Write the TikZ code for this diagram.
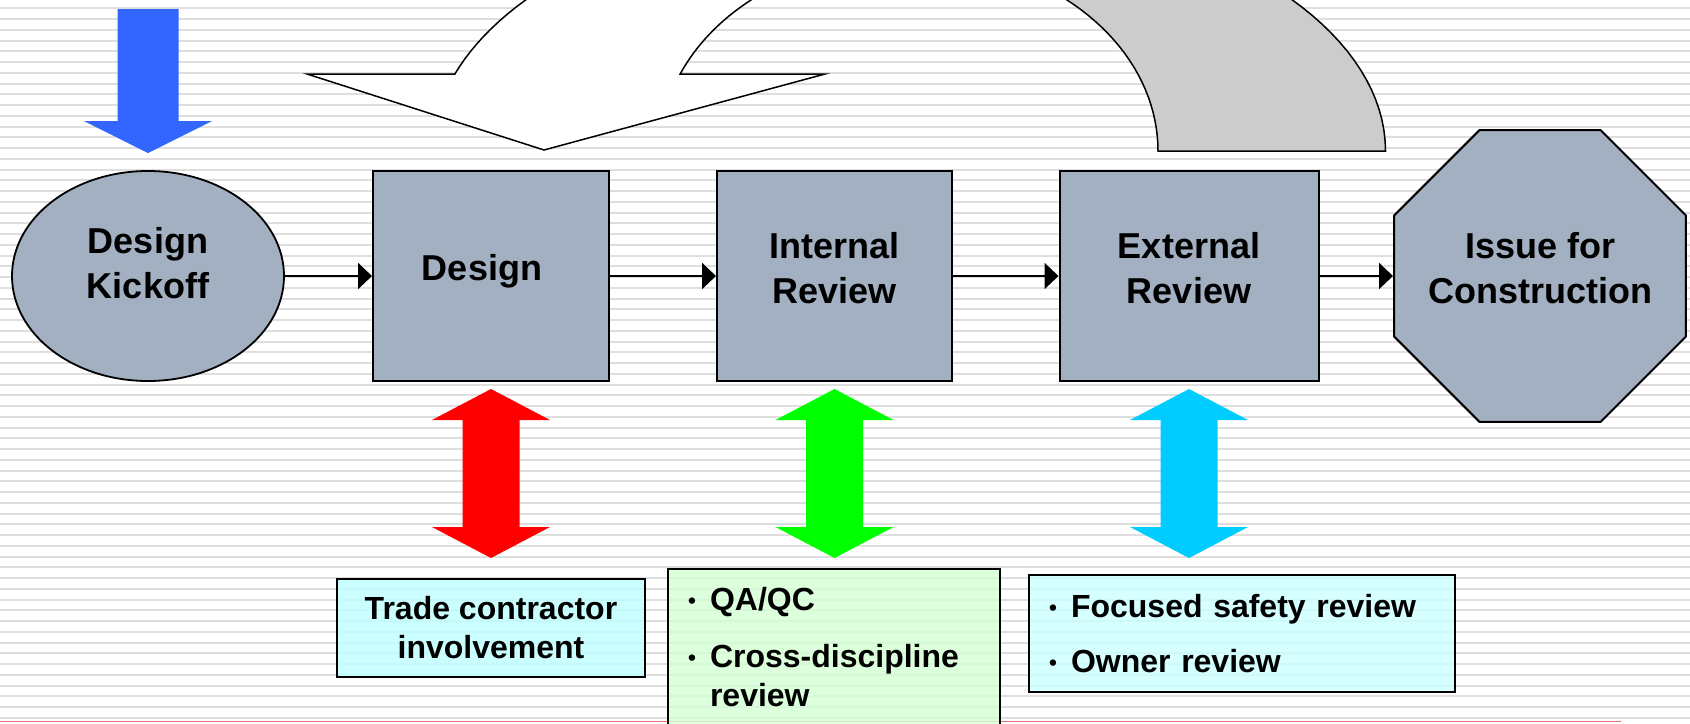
\documentclass[tikz,border=0pt]{standalone}
\usepackage{fontspec}
\setmainfont{Liberation Sans}
\usetikzlibrary{shapes.geometric, arrows.meta}

\definecolor{stagegray}{RGB}{162,176,193}
\definecolor{bandgray}{RGB}{204,204,204}
\definecolor{kickblue}{RGB}{51,102,255}
\definecolor{tradecyan}{RGB}{191,255,255}
\definecolor{qagreen}{RGB}{212,255,212}
\definecolor{ownercyan}{RGB}{204,255,255}
\definecolor{reviewcyan}{RGB}{0,204,255}
\definecolor{stripegray}{RGB}{222,222,222}
\definecolor{footred}{RGB}{232,112,112}

% double headed block arrow under a stage box
\newcommand{\twoway}[2]{%
  \fill[#2] ([shift={(0,7)}]#1.south) -- ++(59,31) -- ++(-30.5,0) -- ++(0,107) -- ++(30.5,0)
    -- ++(-59,31) -- ++(-59,-31) -- ++(30.5,0) -- ++(0,-107) -- ++(-30.5,0) -- cycle;}
\newcommand{\notebullet}{\makebox[11pt][l]{\raisebox{1.2pt}{\scalebox{0.7}{\textbullet}}}}

\begin{document}
\begin{tikzpicture}[x=0.5pt, y=-0.5pt,
  stage/.style={draw, line width=1pt, fill=stagegray, inner sep=0pt},
  stagetext/.style={font=\bfseries\fontsize{18}{22.5}\selectfont, align=center, inner sep=0pt},
  flow/.style={line width=1pt, -{Triangle[length=7pt,width=13pt]}},
  note/.style={draw, line width=0.85pt, fill opacity=0.8, text opacity=1, inner sep=0pt,
    font=\bfseries\fontsize{16}{19.5}\selectfont},
  stripe/.style={stripegray, line width=1pt}]
\useasboundingbox (0,0) rectangle (1690,723);
\fill[white] (0,0) rectangle (1690,723);
\foreach \i in {0,...,66}
  \draw[stripe] (0,8.3+10.75*\i) -- (1690,8.3+10.75*\i);
\draw[footred, line width=0.8pt] (0,721.5) -- (1621,721.5);

% feedback loop, back part
\filldraw[fill=bandgray, line width=0.75pt] (1158,151)
  -- plot[domain=0:90, samples=40] ({909+249*cos(\x)},{151-195.4*sin(\x)})
  -- plot[domain=90:0, samples=40] ({909+476.5*cos(\x)},{151-254.4*sin(\x)}) -- cycle;
% feedback loop, front part with head
\filldraw[fill=white, line width=0.75pt] (307,74)
  -- plot[domain=162.4:90, samples=40] ({909+476.5*cos(\x)},{151-254.4*sin(\x)})
  -- plot[domain=90:156.8, samples=40] ({909+249*cos(\x)},{151-195.4*sin(\x)})
  -- (825,74) -- (544,150) -- cycle;

\node[stage, ellipse, line width=0.9pt, minimum width=136pt, minimum height=105pt] (kickoff) at (148,276) {};
\node[stage, minimum width=118pt, minimum height=105pt] (design) at (491,276) {};
\node[stage, minimum width=117.5pt, minimum height=105pt] (internal) at (834.5,276) {};
\node[stage, minimum width=129.5pt, minimum height=105pt] (external) at (1189,276) {};
\node[stage, regular polygon, regular polygon sides=8, minimum size=158pt] (issue) at (1540,276) {};

\node[stagetext] (kickofftext) at ([yshift=6.5pt]kickoff.center) {Design\\Kickoff};
\node[stagetext] (designtext) at ([xshift=-4.5pt,yshift=2.6pt]design.center) {Design};
\node[stagetext] (internaltext) at ([yshift=4pt]internal.center) {Internal\\Review};
\node[stagetext] (externaltext) at ([yshift=4pt]external.center) {External\\Review};
\node[stagetext] (issuetext) at ([yshift=4pt]issue.center) {Issue for\\Construction};

\fill[kickblue] ([shift={(0,-17)}]kickoff.north) -- ++(-64,-32) -- ++(33.5,0) -- ++(0,-112)
  -- ++(61,0) -- ++(0,112) -- ++(33.5,0) -- cycle;

\draw[flow] (kickoff) -- (design);
\draw[flow] (design) -- (internal);
\draw[flow] (internal) -- (external);
\draw[flow] (external) -- (issue);

\twoway{design}{red}
\twoway{internal}{green}
\twoway{external}{reviewcyan}

\node[note, fill=tradecyan, minimum width=154pt, minimum height=49pt, align=center] (trade) at (491,628)
  {Trade contractor\\involvement};
\node[note, fill=qagreen, text width=146pt, inner xsep=10pt, minimum height=78pt, align=left] (qaqc) at (834,647)
  {\notebullet QA/QC\\[9pt]\notebullet Cross-discipline\\\hspace*{11pt}review};
\node[note, fill=ownercyan, text width=193pt, inner xsep=10pt, minimum height=58.5pt, align=left] (owner) at (1242,633.5)
  {\notebullet Focused safety review\\[8pt]\notebullet Owner review};
\end{tikzpicture}
\end{document}
